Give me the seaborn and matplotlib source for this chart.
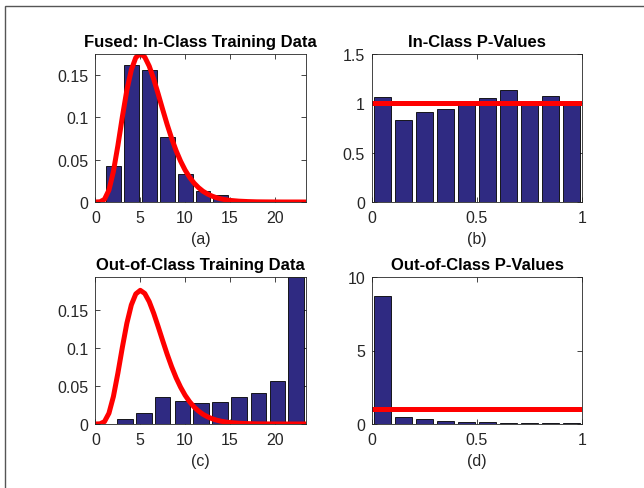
import numpy as np
import pandas as pd
import matplotlib
matplotlib.use("Agg")
import matplotlib.pyplot as plt
import seaborn as sns
from matplotlib.patches import Rectangle

sns.set_theme(style="white")
plt.rcParams['font.family'] = ['Liberation Sans', 'DejaVu Sans']

# ---- data ----
in_centers = [2, 4, 6, 8, 10, 12, 14, 16, 18, 20]
in_heights = [0.0426, 0.162, 0.156, 0.077, 0.033, 0.0134, 0.0083, 0.002, 0.0008, 0.0003]

out_centers = [3.3, 5.4, 7.5, 9.7, 11.8, 13.9, 16.0, 18.2, 20.3, 22.4]
out_heights = [0.0066, 0.0145, 0.0355, 0.0307, 0.028, 0.0294, 0.0355, 0.0412, 0.056, 0.193]

p_centers = [0.05, 0.15, 0.25, 0.35, 0.45, 0.55, 0.65, 0.75, 0.85, 0.95]
in_p_heights = [1.06, 0.83, 0.91, 0.94, 1.0, 1.05, 1.14, 0.99, 1.07, 0.99]
out_p_heights = [8.68, 0.5, 0.34, 0.2, 0.16, 0.13, 0.08, 0.07, 0.06, 0.07]

curve_x = [0, 0.5, 1, 1.5, 2, 2.5, 3, 3.5, 4, 4.5, 5, 5.5, 6, 6.5, 7, 7.5, 8, 8.5,
           9, 9.5, 10, 10.5, 11, 11.5, 12, 12.5, 13, 13.5, 14, 14.5, 15, 16, 17,
           18, 19, 20, 21, 22, 23, 23.5]
curve_y = [0, 0.0002, 0.0031, 0.0141, 0.0361, 0.0668, 0.1008, 0.1322, 0.1563,
           0.1708, 0.1755, 0.1714, 0.1606, 0.1453, 0.1277, 0.1094, 0.0916, 0.0752,
           0.0607, 0.0483, 0.0378, 0.0293, 0.0224, 0.0170, 0.0127, 0.0095, 0.0070,
           0.0051, 0.0037, 0.0027, 0.0019, 0.0010, 0.0005, 0.0002, 0.0001, 0.00005,
           0, 0, 0, 0]

p_line_x = [0, 1]
p_line_y = [1, 1]

titles = ["Fused: In-Class Training Data", "In-Class P-Values",
          "Out-of-Class Training Data", "Out-of-Class P-Values"]
sublabels = ["(a)", "(b)", "(c)", "(d)"]

BAR = '#2f2a82'
RED = '#ff0000'
TXT = '#262626'

W, H = 644, 489
fig = plt.figure(figsize=(W / 100, H / 100), dpi=100)
fig.patch.set_facecolor('white')

def pos(l, t, r, b):
    return [l / W, 1 - b / H, (r - l) / W, (b - t) / H]

axes = [fig.add_axes(pos(95.5, 55, 306, 203)),
        fig.add_axes(pos(372, 55, 582, 203)),
        fig.add_axes(pos(95.5, 278, 306, 425)),
        fig.add_axes(pos(372, 278, 582, 425))]

bar_sets = [(in_centers, in_heights), (p_centers, in_p_heights),
            (out_centers, out_heights), (p_centers, out_p_heights)]

for i, ax in enumerate(axes):
    cx, hy = bar_sets[i]
    df = pd.DataFrame({'x': cx, 'y': hy})
    sns.barplot(data=df, x='x', y='y', native_scale=True, width=0.83,
                color=BAR, saturation=1, edgecolor='black', linewidth=0.6, ax=ax)
    if i in (0, 2):
        cdf = pd.DataFrame({'x': curve_x, 'y': curve_y})
        sns.lineplot(data=cdf, x='x', y='y', color=RED, linewidth=3.6, ax=ax)
        ax.set_xlim(0, 23.5)
        ax.set_xticks([0, 5, 10, 15, 20])
        ax.set_xticklabels(['0', '5', '10', '15', '20'])
    else:
        ldf = pd.DataFrame({'x': p_line_x, 'y': p_line_y})
        sns.lineplot(data=ldf, x='x', y='y', color=RED, linewidth=3.6, ax=ax)
        ax.set_xlim(0, 1)
        ax.set_xticks([0, 0.5, 1])
        ax.set_xticklabels(['0', '0.5', '1'])
    if i == 0:
        ax.set_ylim(0, 0.175)
        ax.set_yticks([0, 0.05, 0.1, 0.15])
        ax.set_yticklabels(['0', '0.05', '0.1', '0.15'])
    elif i == 2:
        ax.set_ylim(0, 0.193)
        ax.set_yticks([0, 0.05, 0.1, 0.15])
        ax.set_yticklabels(['0', '0.05', '0.1', '0.15'])
    elif i == 1:
        ax.set_ylim(0, 1.5)
        ax.set_yticks([0, 0.5, 1, 1.5])
        ax.set_yticklabels(['0', '0.5', '1', '1.5'])
    else:
        ax.set_ylim(0, 10)
        ax.set_yticks([0, 5, 10])
        ax.set_yticklabels(['0', '5', '10'])
    ax.set_title(titles[i], fontsize=12, fontweight='bold', color='black', pad=6)
    ax.set_xlabel(sublabels[i], fontsize=11.5, color=TXT, labelpad=4)
    ax.set_ylabel('')
    for s in ax.spines.values():
        s.set_visible(True)
        s.set_color(TXT)
        s.set_linewidth(0.6)
    ax.tick_params(direction='in', length=3.5, width=0.6, color=TXT,
                   labelsize=11.5, labelcolor=TXT, top=True, right=True,
                   bottom=True, left=True)
    ax.tick_params(axis='x', pad=6)
    ax.tick_params(axis='y', pad=5)
    ax.set_facecolor('white')

# outer frame
fig.patches.append(Rectangle((5 / W, -0.05), 1.1, 1 - 7 / H + 0.05,
                             transform=fig.transFigure, fill=False,
                             edgecolor='#555555', linewidth=1.0))

fig.savefig('out.png', dpi=100, facecolor='white')
